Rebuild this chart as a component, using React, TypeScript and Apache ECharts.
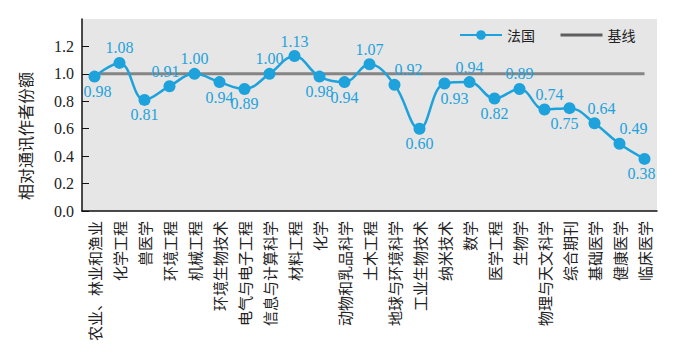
import React, { useEffect, useRef } from "react";
import * as echarts from "echarts";

const categories = [
  "农业、林业和渔业", "化学工程", "兽医学", "环境工程", "机械工程", "环境生物技术",
  "电气与电子工程", "信息与计算科学", "材料工程", "化学", "动物和乳品科学", "土木工程",
  "地球与环境科学", "工业生物技术", "纳米技术", "数学", "医学工程", "生物学",
  "物理与天文科学", "综合期刊", "基础医学", "健康医学", "临床医学",
];
const franceValues = [
  0.98, 1.08, 0.81, 0.91, 1.0, 0.94, 0.89, 1.0, 1.13, 0.98, 0.94, 1.07,
  0.92, 0.6, 0.93, 0.94, 0.82, 0.89, 0.74, 0.75, 0.64, 0.49, 0.38,
];
const baselineValue = 1.0;
const yTicks = [0, 0.2, 0.4, 0.6, 0.8, 1.0, 1.2];
const seriesNames = ["法国", "基线"];
const yAxisTitle = "相对通讯作者份额";

// label placement (style only)
const labelPlace: [string, number][] = [
  ["bottom", 3], ["top", 0], ["bottom", 0], ["top", -4], ["top", 0], ["bottom", 0],
  ["bottom", 0], ["top", 0], ["top", 0], ["bottom", 0], ["bottom", 0], ["top", 0],
  ["top", 14], ["bottom", 0], ["bottom", 10], ["top", 0], ["bottom", 0], ["top", 0],
  ["top", 5], ["bottom", -5], ["top", 7], ["top", 14], ["bottom", -3],
];

const BLUE = "#1ea2dc";
const SERIF = "Times New Roman, Liberation Serif, DejaVu Serif, serif";
const CJK = "Noto Sans CJK SC";

export default function App() {
  const ref = useRef<HTMLDivElement>(null);
  useEffect(() => {
    if (!ref.current) return;
    const chart = echarts.init(ref.current, null, { renderer: "svg" });
    chart.setOption({
      animation: false,
      backgroundColor: "#ffffff",
      grid: {
        left: 82, right: 29, top: 19, bottom: 144,
        show: true, backgroundColor: "#e6e6e6", borderWidth: 0,
      },
      legend: {
        left: 454, top: 23, itemWidth: 42, itemHeight: 12, itemGap: 24,
        textStyle: { fontFamily: CJK, fontSize: 14, color: "#222" },
        data: [
          { name: seriesNames[0] },
          {
            name: seriesNames[1],
            lineStyle: { color: "#5e5e5e", width: 3 },
            itemStyle: { opacity: 0 },
          },
        ],
      },
      graphic: [
        {
          type: "text", x: 25, y: 136, rotation: Math.PI / 2,
          style: {
            text: yAxisTitle, fontFamily: CJK, fontSize: 16, fill: "#222",
            align: "center", verticalAlign: "middle",
          },
        },
      ],
      xAxis: {
        type: "category",
        data: categories,
        axisLine: { lineStyle: { color: "#111", width: 1.5 } },
        axisTick: { inside: true, length: 5, lineStyle: { color: "#111" } },
        axisLabel: {
          interval: 0, rotate: 90, margin: 10, fontFamily: CJK, fontSize: 15, color: "#222",
        },
      },
      yAxis: {
        type: "value", min: 0, max: 1.4, interval: 0.2,
        axisLine: { show: true, lineStyle: { color: "#111", width: 1.5 } },
        axisTick: { show: true, inside: true, length: 7, customValues: yTicks, lineStyle: { color: "#111" } },
        axisLabel: {
          customValues: yTicks, margin: 8, fontFamily: SERIF, fontSize: 16, color: "#222",
          formatter: (v: number) => v.toFixed(1),
        },
        splitLine: { show: false },
      },
      series: [
        {
          name: seriesNames[1], type: "line", z: 1,
          data: categories.map(() => baselineValue),
          symbol: "none",
          lineStyle: { color: "#858585", width: 3 },
          itemStyle: { color: "#858585" },
        },
        {
          name: seriesNames[0], type: "line", z: 3,
          data: franceValues.map((v, i) => ({
            value: v,
            label: { position: labelPlace[i][0], offset: [labelPlace[i][1], 0] },
          })),
          smooth: 0.4,
          symbol: "circle", symbolSize: 12,
          lineStyle: { color: BLUE, width: 2.5 },
          itemStyle: { color: BLUE },
          label: {
            show: true, distance: 1, color: BLUE, fontFamily: SERIF, fontSize: 16,
            formatter: (p: any) => Number(p.value).toFixed(2),
          },
        },
      ],
    });
    return () => chart.dispose();
  }, []);
  return (
    <div
      ref={ref}
      style={{ position: "fixed", left: 0, top: 0, width: 686, height: 355 }}
    />
  );
}
